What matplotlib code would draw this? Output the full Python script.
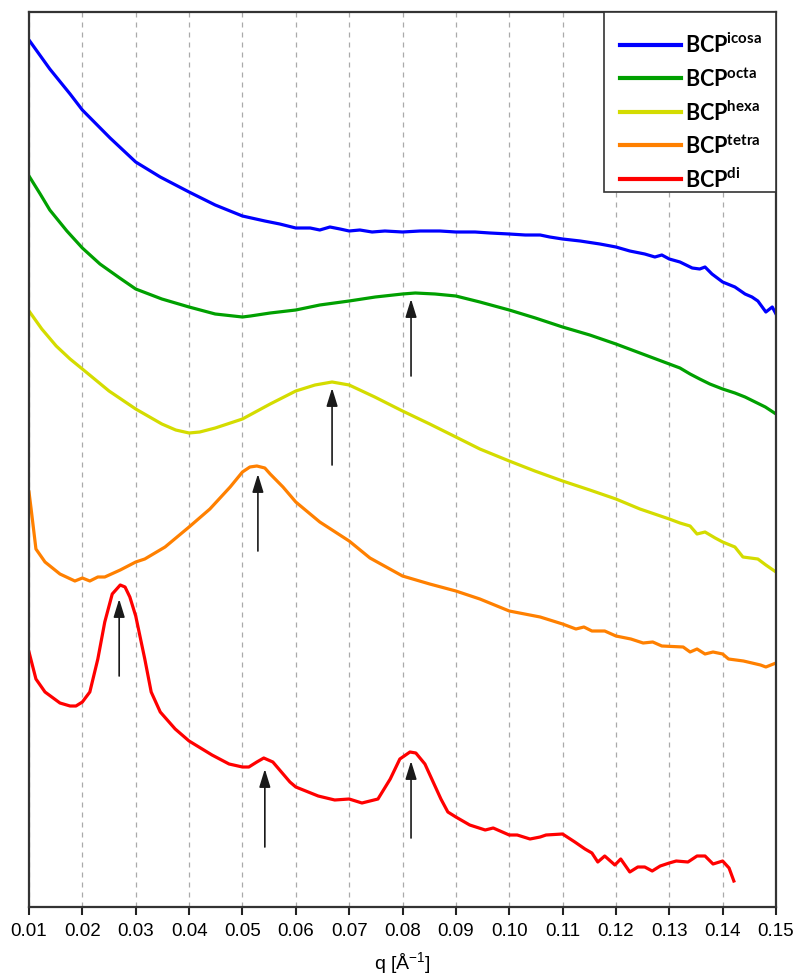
import matplotlib
matplotlib.use("Agg")
import matplotlib.pyplot as plt
from matplotlib.patches import Rectangle

# SAXS curves, vertically offset (arbitrary units)
q_icosa = [0.0100, 0.0139, 0.0177, 0.0200, 0.0252, 0.0300, 0.0346, 0.0400, 0.0449, 0.0500,
           0.0542, 0.0570, 0.0600, 0.0627, 0.0645, 0.0664, 0.0683, 0.0700, 0.0720, 0.0743,
           0.0767, 0.0800, 0.0833, 0.0870, 0.0900, 0.0936, 0.0964, 0.1000, 0.1030, 0.1058,
           0.1076, 0.1100, 0.1133, 0.1170, 0.1200, 0.1226, 0.1254, 0.1273, 0.1286, 0.1300,
           0.1320, 0.1343, 0.1357, 0.1367, 0.1380, 0.1400, 0.1423, 0.1442, 0.1455, 0.1466,
           0.1481, 0.1493, 0.1500]
i_icosa = [867, 838, 813, 797, 769, 745, 730, 715, 702, 691,
           686, 683, 679, 679, 677, 680, 678, 676, 677, 675,
           676, 675, 676, 676, 675, 675, 674, 673, 672, 672,
           670, 668, 666, 663, 660, 656, 653, 650, 652, 648,
           645, 639, 638, 640, 633, 625, 620, 613, 610, 606,
           595, 600, 593]

q_octa = [0.0100, 0.0121, 0.0139, 0.0171, 0.0200, 0.0233, 0.0270, 0.0300, 0.0349, 0.0400,
          0.0449, 0.0500, 0.0515, 0.0552, 0.0600, 0.0645, 0.0700, 0.0749, 0.0800, 0.0824,
          0.0861, 0.0900, 0.0945, 0.1000, 0.1049, 0.1100, 0.1151, 0.1200, 0.1245, 0.1300,
          0.1320, 0.1339, 0.1357, 0.1376, 0.1400, 0.1423, 0.1442, 0.1461, 0.1480, 0.1500]
i_octa = [731, 713, 697, 676, 659, 643, 629, 618, 608, 600,
          593, 590, 591, 594, 597, 602, 606, 610, 613, 614,
          613, 611, 605, 597, 589, 580, 572, 563, 554, 543,
          539, 533, 528, 523, 518, 514, 510, 505, 500, 493]

q_hexa = [0.0100, 0.0124, 0.0151, 0.0177, 0.0200, 0.0250, 0.0300, 0.0349, 0.0375, 0.0400,
          0.0420, 0.0449, 0.0500, 0.0552, 0.0600, 0.0636, 0.0668, 0.0700, 0.0748, 0.0800,
          0.0851, 0.0900, 0.0945, 0.1000, 0.1048, 0.1100, 0.1151, 0.1200, 0.1245, 0.1300,
          0.1320, 0.1339, 0.1352, 0.1367, 0.1386, 0.1400, 0.1423, 0.1438, 0.1466, 0.1481,
          0.1500]
i_hexa = [596, 578, 561, 548, 538, 516, 498, 483, 477, 474,
          475, 479, 488, 503, 516, 522, 525, 522, 510, 496,
          483, 470, 458, 446, 436, 426, 417, 408, 398, 388,
          384, 381, 373, 375, 369, 365, 360, 350, 348, 342,
          335]

q_tetra = [0.0100, 0.0104, 0.0113, 0.0130, 0.0158, 0.0186, 0.0200, 0.0214, 0.0229, 0.0242,
           0.0271, 0.0300, 0.0317, 0.0355, 0.0400, 0.0439, 0.0477, 0.0500, 0.0514, 0.0527,
           0.0542, 0.0552, 0.0576, 0.0600, 0.0645, 0.0700, 0.0739, 0.0800, 0.0851, 0.0900,
           0.0945, 0.1000, 0.1058, 0.1100, 0.1125, 0.1140, 0.1155, 0.1179, 0.1200, 0.1228,
           0.1251, 0.1269, 0.1286, 0.1326, 0.1339, 0.1352, 0.1367, 0.1382, 0.1400, 0.1411,
           0.1439, 0.1471, 0.1481, 0.1500]
i_tetra = [415, 398, 358, 345, 333, 326, 329, 326, 330, 330,
           337, 345, 348, 360, 380, 398, 420, 435, 440, 441,
           439, 433, 420, 405, 385, 366, 349, 331, 323, 316,
           308, 296, 290, 283, 278, 280, 276, 276, 271, 268,
           264, 265, 261, 260, 255, 258, 253, 255, 253, 248,
           246, 242, 240, 244]

q_di = [0.0100, 0.0113, 0.0130, 0.0158, 0.0177, 0.0188, 0.0200, 0.0214, 0.0229, 0.0242,
        0.0256, 0.0271, 0.0280, 0.0289, 0.0300, 0.0317, 0.0329, 0.0346, 0.0374, 0.0400,
        0.0443, 0.0475, 0.0500, 0.0512, 0.0527, 0.0540, 0.0557, 0.0589, 0.0600, 0.0642,
        0.0673, 0.0700, 0.0724, 0.0754, 0.0777, 0.0795, 0.0814, 0.0825, 0.0842, 0.0872,
        0.0885, 0.0900, 0.0926, 0.0955, 0.0970, 0.1000, 0.1015, 0.1039, 0.1058, 0.1069,
        0.1100, 0.1123, 0.1142, 0.1155, 0.1166, 0.1179, 0.1198, 0.1209, 0.1226, 0.1241,
        0.1254, 0.1268, 0.1283, 0.1300, 0.1313, 0.1335, 0.1352, 0.1367, 0.1382, 0.1400,
        0.1412, 0.1421]
i_di = [255, 228, 215, 204, 201, 201, 205, 215, 248, 285,
        313, 322, 320, 310, 291, 248, 215, 195, 178, 166,
        152, 143, 140, 140, 145, 149, 145, 125, 120, 111,
        107, 108, 104, 108, 128, 148, 155, 154, 143, 108,
        95, 90, 82, 77, 79, 72, 72, 68, 70, 72,
        73, 65, 58, 54, 45, 51, 42, 48, 35, 40,
        40, 36, 41, 44, 46, 45, 51, 51, 43, 46,
        39, 26]

# peak markers: q position, arrow tail, arrow tip
arrow_q = [0.0816, 0.0668, 0.0529, 0.0269, 0.0542, 0.0816]
arrow_tail = [531, 442, 356, 231, 60, 69]
arrow_tip = [608, 519, 433, 308, 138, 146]

labels = [r"BCP$^{\mathbf{icosa}}$", r"BCP$^{\mathbf{octa}}$", r"BCP$^{\mathbf{hexa}}$",
          r"BCP$^{\mathbf{tetra}}$", r"BCP$^{\mathbf{di}}$"]
colors = ["#0000ff", "#00a000", "#d4dc00", "#ff8000", "#ff0000"]

plt.rcParams["mathtext.fontset"] = "custom"
plt.rcParams["mathtext.bf"] = "Lato:bold"
plt.rcParams["mathtext.rm"] = "Liberation Sans"
tick_font = ["Liberation Sans", "DejaVu Sans"]

fig = plt.figure(figsize=(7.98, 9.78), dpi=100)
ax = fig.add_axes([29 / 798, 1 - 908 / 978, (776 - 29) / 798, (908 - 13) / 978])

series = [(q_icosa, i_icosa), (q_octa, i_octa), (q_hexa, i_hexa), (q_tetra, i_tetra), (q_di, i_di)]
for (q, i), lab, col in zip(series, labels, colors):
    ax.plot(q, i, color=col, lw=2.3, label=lab, solid_joinstyle="round")

for q, t0, t1 in zip(arrow_q, arrow_tail, arrow_tip):
    ax.annotate("", xy=(q, t1), xytext=(q, t0),
                arrowprops=dict(arrowstyle="-|>,head_length=0.55,head_width=0.17",
                                color="#1a1a1a", lw=1.2, mutation_scale=20,
                                shrinkA=0, shrinkB=0))

ax.set_xlim(0.01, 0.15)
ax.set_ylim(0, 895)
ax.set_xticks([0.01 * k for k in range(1, 16)])
ax.set_xticklabels([f"{0.01 * k:.2f}" for k in range(1, 16)], family=tick_font, fontsize=13.5)
ax.set_yticks([])
ax.xaxis.grid(True, linestyle=(0, (4, 4)), color="#aaaaaa", lw=0.9)
ax.set_axisbelow(True)
ax.tick_params(axis="x", direction="out", length=6, width=1.5, color="#222222", pad=5)
for sp in ax.spines.values():
    sp.set_color("#333333")
    sp.set_linewidth(1.6)

ax.set_xlabel(r"q [Å$^{\mathregular{-1}}$]", family=tick_font, fontsize=14, labelpad=7)

# legend box drawn separately so the entries can sit a bit lower in it
ax.add_patch(Rectangle((0.7697, 0.7989), 0.2303, 0.2011, transform=ax.transAxes,
                       facecolor="white", edgecolor="#333333", lw=1.2, zorder=4))
leg = ax.legend(loc="upper right", bbox_to_anchor=(1.0, 1.0 - 6 / 895), borderaxespad=0,
                frameon=False, prop={"family": "Lato", "weight": "bold", "size": 15.5},
                handlelength=2.8, handletextpad=0.2, labelspacing=0.45, borderpad=0.65)
leg.set_zorder(5)
for line in leg.get_lines():
    line.set_linewidth(3)

fig.savefig("out.png", dpi=100)
